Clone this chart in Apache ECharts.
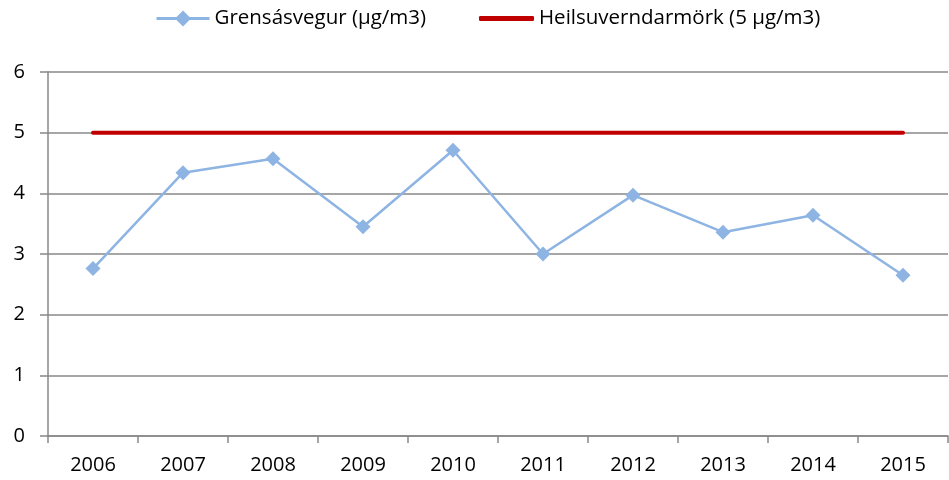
<!DOCTYPE html>
<html><head><meta charset="utf-8">
<script src="https://cdn.jsdelivr.net/npm/echarts@6/dist/echarts.min.js"></script>
<style>html,body{margin:0;padding:0;background:#fff}#c{width:949px;height:480px}</style>
</head><body><div id="c"></div>
<script>
var categories = ['2006','2007','2008','2009','2010','2011','2012','2013','2014','2015'];
var grensasvegur = [2.76, 4.34, 4.57, 3.45, 4.71, 3.0, 3.97, 3.36, 3.64, 2.65];
var limit = [5, 5, 5, 5, 5, 5, 5, 5, 5, 5];
var seriesNames = ['Grensásvegur (µg/m3)', 'Heilsuverndarmörk (5 µg/m3)'];
var font = 'Open Sans';
var legendText = {fontFamily: font, fontSize: 20.5, color: '#000'};
var chart = echarts.init(document.getElementById('c'));
chart.setOption({
  animation: false,
  legend: [
    {
      top: 8, left: 155, padding: 0, itemWidth: 53, itemHeight: 20, itemGap: 6,
      textStyle: legendText,
      data: [{name: seriesNames[0], lineStyle: {width: 3}}]
    },
    {
      top: 8, left: 479, padding: 0, itemWidth: 55, itemHeight: 5, itemGap: 6,
      textStyle: legendText,
      data: [{name: seriesNames[1], icon: 'roundRect'}]
    }
  ],
  grid: {left: 48, right: 1, top: 72, bottom: 44, containLabel: false},
  xAxis: {
    type: 'category', data: categories, boundaryGap: true,
    axisLine: {lineStyle: {color: '#888', width: 1.5}},
    axisTick: {show: true, length: 7, lineStyle: {color: '#888', width: 1.5}},
    axisLabel: {fontFamily: font, fontSize: 20, color: '#000', margin: 19}
  },
  yAxis: {
    type: 'value', min: 0, max: 6, interval: 1,
    axisLine: {show: true, lineStyle: {color: '#888', width: 1.5}},
    axisTick: {show: true, length: 8, lineStyle: {color: '#888', width: 1.5}},
    splitLine: {lineStyle: {color: '#888', width: 1.5}},
    axisLabel: {fontFamily: font, fontSize: 20, color: '#000', margin: 23}
  },
  series: [
    {
      name: seriesNames[0], type: 'line', data: grensasvegur,
      symbol: 'diamond', symbolSize: 15,
      lineStyle: {color: '#8DB4E2', width: 2.5},
      itemStyle: {color: '#8DB4E2'}, z: 3
    },
    {
      name: seriesNames[1], type: 'line', data: limit,
      symbol: 'none', showSymbol: false,
      lineStyle: {color: '#C00000', width: 4, cap: 'round'},
      itemStyle: {color: '#C00000'}, z: 2
    }
  ]
});
</script></body></html>
